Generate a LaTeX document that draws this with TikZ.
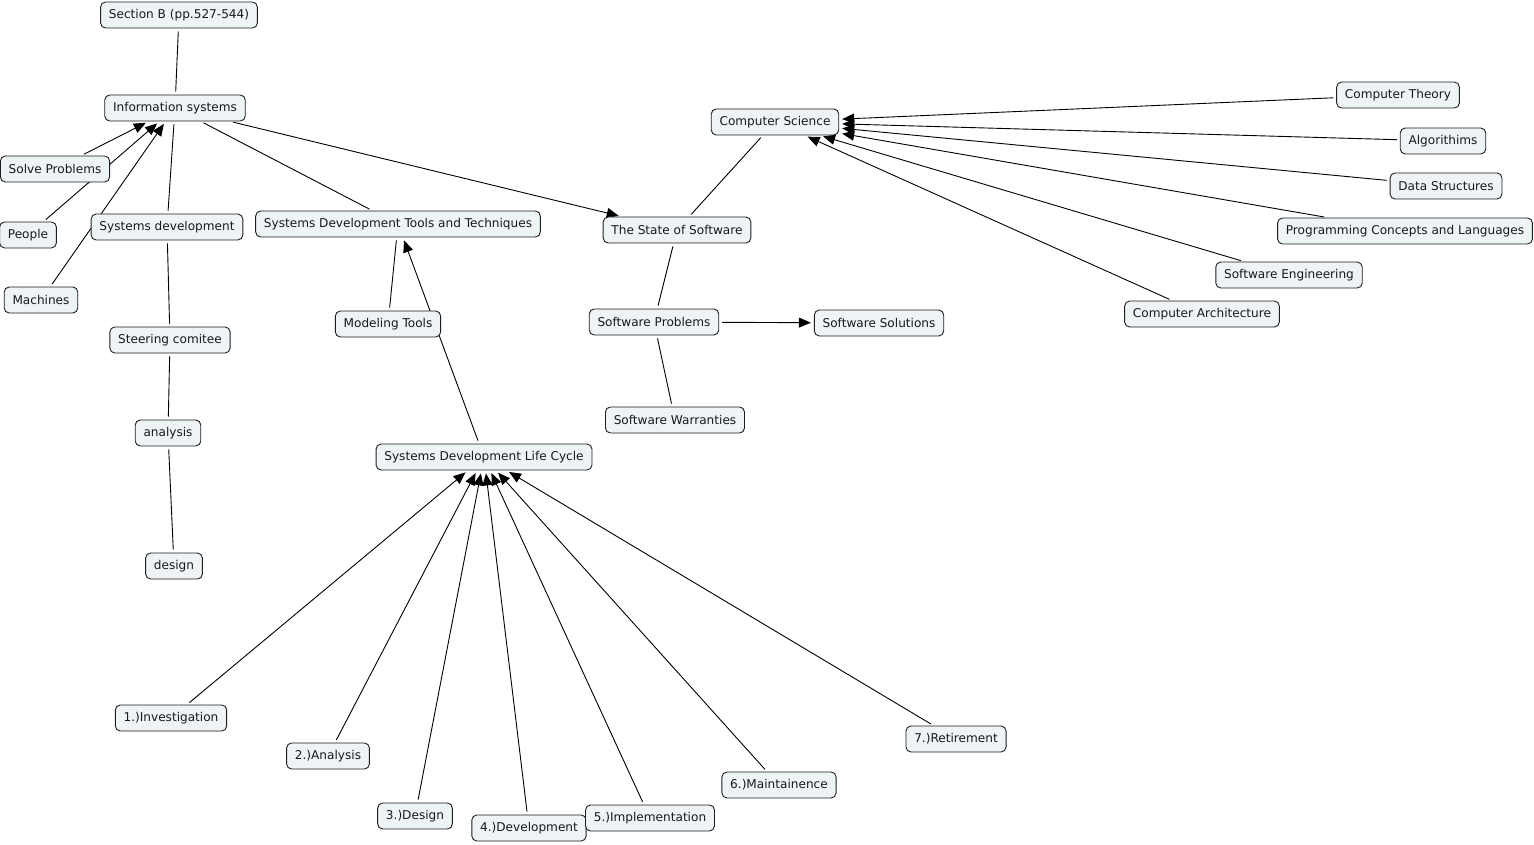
\documentclass[tikz,border=0pt]{standalone}
\usepackage{fontspec}
\setmainfont{DejaVu Sans}
\usetikzlibrary{arrows.meta}
\pgfdeclarelayer{bg}
\pgfsetlayers{bg,main}
\definecolor{boxfill}{RGB}{238,243,245}
\definecolor{boxline}{RGB}{30,30,30}
\tikzset{
  box/.style={draw=boxline, fill=boxfill, rounded corners=5pt, line width=0.9pt,
    minimum height=26pt, inner xsep=8.3pt, inner ysep=0pt,
    font=\fontsize{12.1pt}{14pt}\selectfont, text=black!90},
  link/.style={draw=black, line width=0.9pt, shorten <=3pt, shorten >=3pt},
  arr/.style={link, -{Triangle[length=12pt,width=10pt]}}
}
\begin{document}
\begin{tikzpicture}[x=1pt,y=-1pt]
\useasboundingbox (0,0) rectangle (1534,845);
% nodes
\node[box] (sec) at (179,15) {Section B (pp.527-544)};
\node[box] (is) at (175,108) {Information systems};
\node[box] (sp) at (55,169) {Solve Problems};
\node[box] (pe) at (28,235) {People};
\node[box] (ma) at (41,300) {Machines};
\node[box] (sd) at (167,227) {Systems development};
\node[box] (sc) at (170,340) {Steering comitee};
\node[box] (an) at (168,433) {analysis};
\node[box] (de) at (174,566) {design};
\node[box] (sdtt) at (398,224) {Systems Development Tools and Techniques};
\node[box] (mt) at (388,324) {Modeling Tools};
\node[box] (sdlc) at (484,457) {Systems Development Life Cycle};
\node[box] (s1) at (171,718) {1.)Investigation};
\node[box] (s2) at (328,756) {2.)Analysis};
\node[box] (s3) at (415,816) {3.)Design};
\node[box] (s4) at (529,828) {4.)Development};
\node[box] (s5) at (650,818) {5.)Implementation};
\node[box] (s6) at (779,785) {6.)Maintainence};
\node[box] (s7) at (956,739) {7.)Retirement};
\node[box] (sos) at (677,230) {The State of Software};
\node[box] (swp) at (654,322) {Software Problems};
\node[box] (sws) at (879,323) {Software Solutions};
\node[box] (sww) at (675,420) {Software Warranties};
\node[box] (cs) at (775,122) {Computer Science};
\node[box] (ct) at (1398,95) {Computer Theory};
\node[box] (al) at (1443,141) {Algorithims};
\node[box] (ds) at (1446,186) {Data Structures};
\node[box] (pcl) at (1405,231) {Programming Concepts and Languages};
\node[box] (se) at (1289,275) {Software Engineering};
\node[box] (ca) at (1202,314) {Computer Architecture};
% connectors
\begin{pgfonlayer}{bg}
\draw[link] (sec) -- (is);
\draw[arr] (sp) -- (is);
\draw[arr] (pe) -- (is);
\draw[arr] (ma) -- (is);
\draw[link] (sd) -- (is);
\draw[link] (is) -- (sdtt);
\draw[arr] (is) -- (sos);
\draw[link] (sd) -- (sc);
\draw[link] (sc) -- (an);
\draw[link] (an) -- (de);
\draw[link] (mt) -- (sdtt);
\draw[arr] (sdlc) -- (sdtt);
\foreach \s in {s1,s2,s3,s4,s5,s6,s7} \draw[arr] (\s) -- (sdlc);
\draw[link] (sos) -- (cs);
\draw[link] (sos) -- (swp);
\draw[arr] (swp) -- (sws);
\draw[link] (swp) -- (sww);
\foreach \s in {ct,al,ds,pcl,se,ca} \draw[arr] (\s) -- (cs);
\end{pgfonlayer}
\end{tikzpicture}
\end{document}
